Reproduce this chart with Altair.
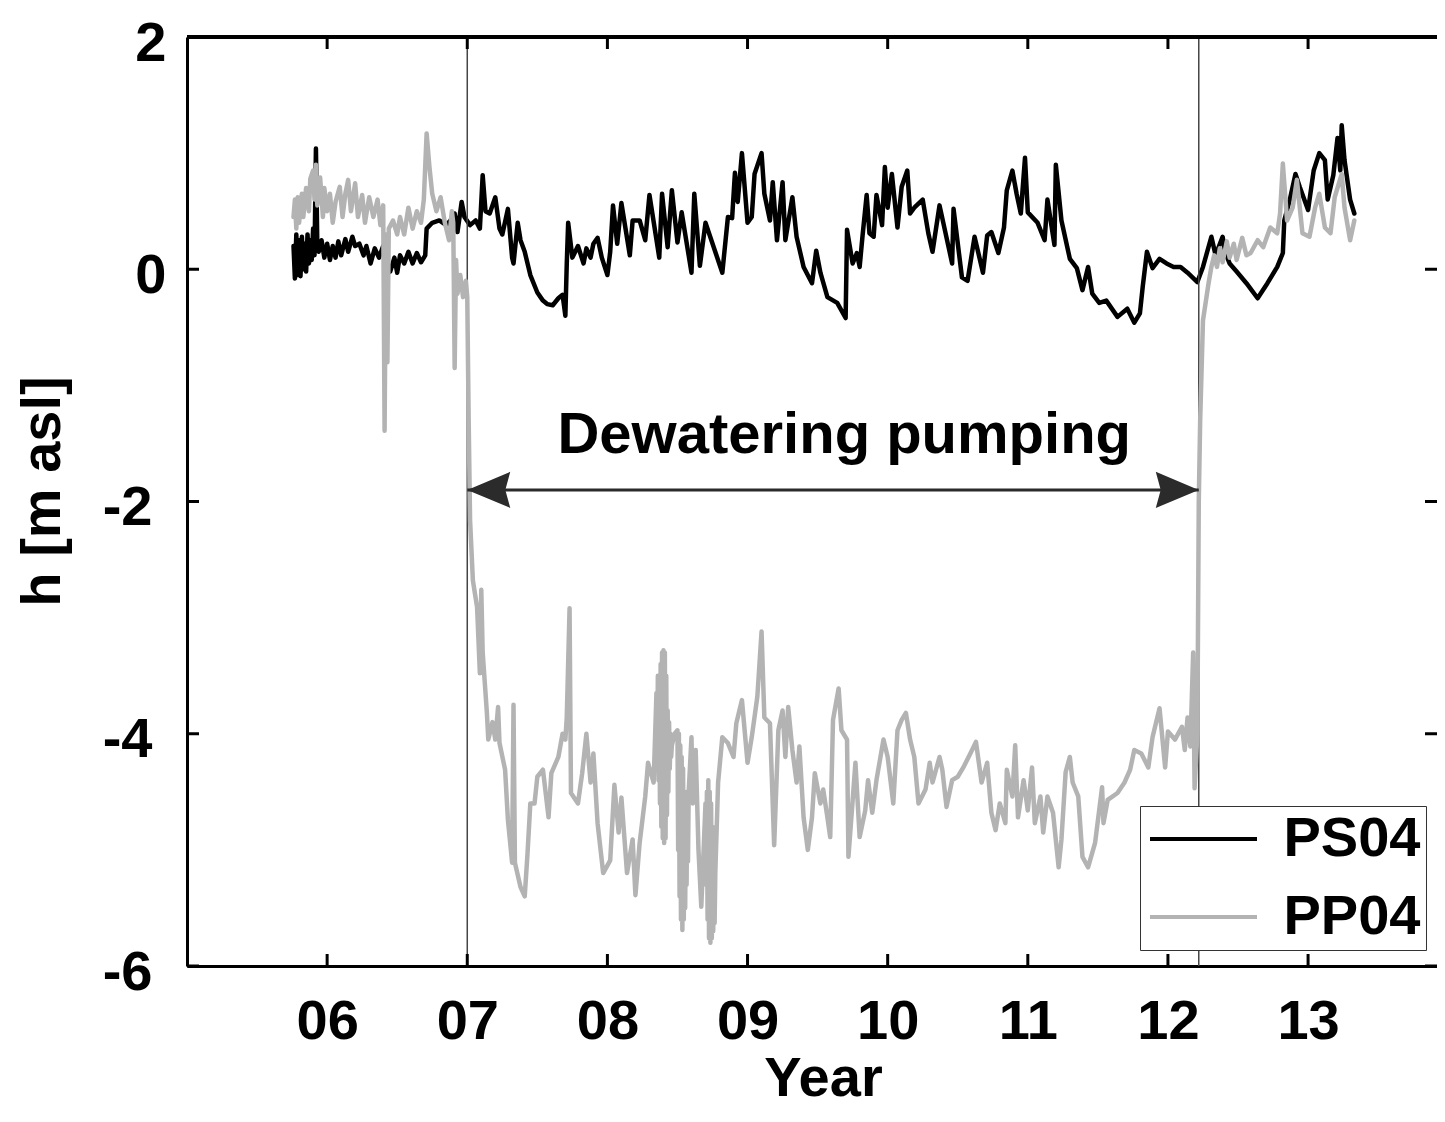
import altair as alt
import pandas as pd

# ---------------- data ----------------
ps04_year = [2005.76, 2005.77, 2005.78, 2005.79, 2005.80, 2005.81, 2005.82, 2005.83, 2005.84, 2005.85,
             2005.86, 2005.87, 2005.88, 2005.89, 2005.90, 2005.91, 2005.92, 2005.93, 2005.94, 2005.96,
             2005.98, 2006.00, 2006.02, 2006.04, 2006.06, 2006.08, 2006.10, 2006.13, 2006.15, 2006.18,
             2006.20, 2006.23, 2006.26, 2006.28, 2006.31, 2006.34, 2006.37, 2006.40, 2006.42, 2006.45,
             2006.48, 2006.50, 2006.52, 2006.55, 2006.58, 2006.61, 2006.64, 2006.67, 2006.70, 2006.71,
             2006.75, 2006.80, 2006.85, 2006.88, 2006.91, 2006.93, 2006.96, 2006.98, 2007.02, 2007.06,
             2007.09, 2007.11, 2007.13, 2007.16, 2007.20, 2007.23, 2007.25, 2007.29, 2007.32, 2007.33,
             2007.36, 2007.38, 2007.41, 2007.45, 2007.50, 2007.54, 2007.57, 2007.61, 2007.65, 2007.68,
             2007.70, 2007.71, 2007.72, 2007.75, 2007.79, 2007.83, 2007.85, 2007.88, 2007.90, 2007.93,
             2007.96, 2008.00, 2008.02, 2008.04, 2008.07, 2008.10, 2008.16, 2008.18, 2008.23, 2008.27,
             2008.30, 2008.37, 2008.39, 2008.43, 2008.46, 2008.50, 2008.53, 2008.60, 2008.62, 2008.66,
             2008.70, 2008.82, 2008.86, 2008.89, 2008.91, 2008.93, 2008.96, 2009.00, 2009.03, 2009.05,
             2009.10, 2009.12, 2009.16, 2009.18, 2009.21, 2009.25, 2009.27, 2009.32, 2009.35, 2009.40,
             2009.46, 2009.49, 2009.52, 2009.57, 2009.64, 2009.70, 2009.71, 2009.75, 2009.78, 2009.80,
             2009.82, 2009.85, 2009.87, 2009.90, 2009.92, 2009.96, 2009.98, 2010.00, 2010.03, 2010.07,
             2010.10, 2010.14, 2010.16, 2010.19, 2010.25, 2010.29, 2010.32, 2010.37, 2010.46, 2010.47,
             2010.53, 2010.57, 2010.62, 2010.68, 2010.71, 2010.74, 2010.79, 2010.83, 2010.85, 2010.89,
             2010.92, 2010.95, 2010.98, 2011.00, 2011.07, 2011.12, 2011.14, 2011.19, 2011.20, 2011.24,
             2011.30, 2011.35, 2011.39, 2011.43, 2011.46, 2011.51, 2011.56, 2011.64, 2011.71, 2011.76,
             2011.80, 2011.82, 2011.85, 2011.89, 2011.94, 2011.99, 2012.04, 2012.09, 2012.14, 2012.21,
             2012.25, 2012.31, 2012.34, 2012.39, 2012.41, 2012.44, 2012.49, 2012.56, 2012.64, 2012.71,
             2012.78, 2012.82, 2012.83, 2012.87, 2012.91, 2012.94, 2013.00, 2013.04, 2013.08, 2013.12,
             2013.14, 2013.18, 2013.21, 2013.23, 2013.24, 2013.26, 2013.30, 2013.33]
ps04_h = [0.20, -0.08, 0.30, -0.05, 0.25, -0.06, 0.28, 0.00, 0.22, -0.02,
          0.30, 0.05, 0.25, 0.08, 0.35, 0.12, 1.04, 0.20, 0.15, 0.25,
          0.10, 0.22, 0.08, 0.20, 0.10, 0.24, 0.12, 0.26, 0.15, 0.28,
          0.20, 0.22, 0.12, 0.20, 0.05, 0.18, 0.10, 0.20, 0.05, -0.02,
          0.10, -0.03, 0.12, 0.05, 0.15, 0.05, 0.14, 0.06, 0.12, 0.35,
          0.40, 0.42, 0.38, 0.42, 0.48, 0.32, 0.58, 0.45, 0.38, 0.42,
          0.35, 0.81, 0.50, 0.48, 0.62, 0.35, 0.30, 0.52, 0.10, 0.05,
          0.40, 0.25, 0.15, -0.05, -0.20, -0.27, -0.30, -0.31, -0.25, -0.22,
          -0.40, 0.05, 0.40, 0.10, 0.20, 0.05, 0.18, 0.10, 0.22, 0.27,
          0.10, -0.05, 0.15, 0.55, 0.22, 0.57, 0.12, 0.42, 0.42, 0.25,
          0.64, 0.10, 0.65, 0.19, 0.68, 0.23, 0.49, -0.03, 0.65, 0.03,
          0.40, -0.03, 0.45, 0.44, 0.83, 0.58, 1.00, 0.40, 0.45, 0.82,
          1.00, 0.65, 0.42, 0.75, 0.25, 0.75, 0.25, 0.62, 0.28, 0.02,
          -0.12, 0.16, -0.03, -0.24, -0.29, -0.42, 0.34, 0.05, 0.14, 0.02,
          0.28, 0.64, 0.31, 0.28, 0.64, 0.38, 0.88, 0.53, 0.82, 0.36,
          0.71, 0.85, 0.48, 0.53, 0.60, 0.31, 0.15, 0.55, 0.05, 0.52,
          -0.07, -0.10, 0.28, -0.03, 0.29, 0.32, 0.14, 0.36, 0.68, 0.85,
          0.65, 0.48, 0.96, 0.49, 0.40, 0.25, 0.60, 0.21, 0.90, 0.42,
          0.09, 0.01, -0.18, 0.02, -0.21, -0.29, -0.27, -0.41, -0.34, -0.46,
          -0.38, -0.15, 0.15, 0.01, 0.09, 0.05, 0.02, 0.02, -0.03, -0.11,
          0.02, 0.28, 0.12, 0.28, 0.14, 0.05, -0.02, -0.12, -0.25, -0.12,
          0.02, 0.14, 0.42, 0.60, 0.82, 0.71, 0.51, 0.85, 1.00, 0.94,
          0.60, 0.81, 1.13, 0.85, 1.24, 0.94, 0.60, 0.48]

pp04_year = [2005.76, 2005.77, 2005.78, 2005.79, 2005.80, 2005.82, 2005.83, 2005.85, 2005.87, 2005.88,
             2005.90, 2005.91, 2005.92, 2005.93, 2005.95, 2005.97, 2005.98, 2006.00, 2006.02, 2006.04,
             2006.06, 2006.09, 2006.11, 2006.13, 2006.15, 2006.17, 2006.20, 2006.22, 2006.25, 2006.27,
             2006.30, 2006.33, 2006.36, 2006.38, 2006.40, 2006.41, 2006.42, 2006.43, 2006.44, 2006.47,
             2006.50, 2006.52, 2006.55, 2006.58, 2006.61, 2006.64, 2006.67, 2006.69, 2006.71, 2006.73,
             2006.75, 2006.78, 2006.81, 2006.84, 2006.87, 2006.89, 2006.90, 2006.91, 2006.92, 2006.93,
             2006.95, 2006.97, 2006.99, 2007.00, 2007.01, 2007.02, 2007.04, 2007.07, 2007.09, 2007.10,
             2007.11, 2007.14, 2007.15, 2007.18, 2007.20, 2007.22, 2007.23, 2007.27, 2007.29, 2007.32,
             2007.33, 2007.34, 2007.38, 2007.41, 2007.43, 2007.45, 2007.48, 2007.50, 2007.54, 2007.58,
             2007.60, 2007.65, 2007.68, 2007.70, 2007.71, 2007.73, 2007.74, 2007.79, 2007.82, 2007.85,
             2007.88, 2007.90, 2007.93, 2007.97, 2008.02, 2008.05, 2008.08, 2008.10, 2008.14, 2008.18,
             2008.20, 2008.23, 2008.27, 2008.29, 2008.33,
             2008.350, 2008.355, 2008.360, 2008.365, 2008.370, 2008.375, 2008.380, 2008.385, 2008.390,
             2008.395, 2008.400, 2008.405, 2008.410, 2008.415, 2008.420, 2008.425, 2008.430, 2008.435,
             2008.440, 2008.445, 2008.450, 2008.455, 2008.460, 2008.48,
             2008.500, 2008.505, 2008.510, 2008.515, 2008.520, 2008.525, 2008.530, 2008.535, 2008.540,
             2008.545, 2008.550, 2008.555, 2008.560, 2008.565, 2008.570, 2008.575, 2008.580,
             2008.60, 2008.61, 2008.63, 2008.65, 2008.67, 2008.69,
             2008.700, 2008.705, 2008.710, 2008.715, 2008.720, 2008.725, 2008.730, 2008.735, 2008.740,
             2008.745, 2008.750, 2008.755, 2008.760, 2008.765, 2008.770,
             2008.79, 2008.82,
             2008.86, 2008.90, 2008.92, 2008.96, 2009.00, 2009.03, 2009.07, 2009.10, 2009.12, 2009.16,
             2009.19, 2009.22, 2009.25, 2009.27, 2009.29, 2009.32, 2009.35, 2009.37, 2009.40, 2009.43,
             2009.46, 2009.48, 2009.52, 2009.54, 2009.57, 2009.59, 2009.61, 2009.65, 2009.67, 2009.71,
             2009.72, 2009.77, 2009.80, 2009.84, 2009.86, 2009.89, 2009.92, 2009.97, 2010.00, 2010.04,
             2010.07, 2010.10, 2010.13, 2010.16, 2010.19, 2010.22, 2010.27, 2010.30, 2010.32, 2010.37,
             2010.39, 2010.42, 2010.46, 2010.50, 2010.54, 2010.59, 2010.63, 2010.67, 2010.71, 2010.74,
             2010.77, 2010.80, 2010.84, 2010.85, 2010.89, 2010.91, 2010.93, 2010.97, 2011.00, 2011.03,
             2011.05, 2011.09, 2011.11, 2011.14, 2011.18, 2011.22, 2011.24, 2011.27, 2011.30, 2011.32,
             2011.36, 2011.39, 2011.43, 2011.48, 2011.53, 2011.54, 2011.57, 2011.64, 2011.69, 2011.73,
             2011.76, 2011.81, 2011.86, 2011.89, 2011.94, 2011.98, 2012.00, 2012.05, 2012.10, 2012.12,
             2012.14, 2012.16, 2012.18, 2012.19, 2012.21, 2012.22, 2012.23, 2012.25, 2012.29, 2012.31,
             2012.33, 2012.35, 2012.37, 2012.39, 2012.42, 2012.44, 2012.47, 2012.49, 2012.53, 2012.56,
             2012.59, 2012.64, 2012.68, 2012.73, 2012.78, 2012.80, 2012.82, 2012.85, 2012.89, 2012.92,
             2012.96, 2013.01, 2013.05, 2013.08, 2013.12, 2013.16, 2013.19, 2013.24, 2013.26, 2013.30,
             2013.33]
pp04_h = [0.45, 0.60, 0.35, 0.62, 0.40, 0.65, 0.45, 0.70, 0.50, 0.78,
          0.85, 0.60, 0.90, 0.55, 0.79, 0.45, 0.70, 0.50, 0.65, 0.40,
          0.58, 0.71, 0.45, 0.65, 0.77, 0.50, 0.74, 0.45, 0.64, 0.40,
          0.62, 0.45, 0.60, 0.38, 0.55, -1.39, 0.30, -0.80, 0.35, 0.42,
          0.30, 0.45, 0.30, 0.53, 0.35, 0.50, 0.40, 0.60, 1.17, 0.88,
          0.65, 0.50, 0.62, 0.40, 0.25, 0.50, 0.40, -0.85, 0.08, -0.21,
          -0.05, -0.24, -0.10, -0.24, -1.30, -2.16, -2.68, -2.91, -3.48, -2.76,
          -3.30, -3.82, -4.05, -3.90, -4.05, -3.77, -4.08, -4.31, -4.74, -5.11,
          -3.75, -5.11, -5.32, -5.40, -5.03, -4.60, -4.60, -4.37, -4.31, -4.72,
          -4.34, -4.20, -4.00, -4.05, -3.86, -2.92, -4.51, -4.60, -4.34, -4.00,
          -4.42, -4.17, -4.77, -5.20, -5.09, -4.44, -4.85, -4.55, -5.20, -4.91,
          -5.39, -4.94, -4.54, -4.25, -4.42,
          -3.65, -4.30, -3.50, -4.40, -3.60, -4.60, -3.40, -4.80, -3.30, -4.90,
          -3.28, -4.94, -3.30, -4.90, -3.50, -4.70, -3.80, -4.50, -3.90, -4.30,
          -4.00, -4.20, -4.10, -4.00,
          -3.97, -5.00, -4.00, -5.40, -4.10, -5.60, -4.20, -5.69, -4.30, -5.60,
          -4.50, -5.50, -4.60, -5.30, -4.50, -5.10, -4.50,
          -4.03, -4.60, -4.14, -5.00, -5.49, -4.90,
          -4.60, -5.30, -4.50, -5.60, -4.40, -5.76, -4.50, -5.80, -4.60, -5.76,
          -4.80, -5.70, -5.00, -5.63, -5.20,
          -4.42, -4.03,
          -4.08, -4.20, -3.91, -3.71, -4.25, -4.03, -3.68, -3.12, -3.86, -3.91,
          -4.96, -3.97, -3.80, -4.20, -3.77, -4.14, -4.42, -4.11, -4.72, -5.00,
          -4.72, -4.34, -4.60, -4.48, -4.72, -4.89, -3.88, -3.61, -3.97, -4.05,
          -5.06, -4.25, -4.89, -4.66, -4.40, -4.68, -4.40, -4.05, -4.20, -4.60,
          -3.97, -3.88, -3.82, -4.05, -4.20, -4.60, -4.48, -4.25, -4.42, -4.20,
          -4.31, -4.63, -4.40, -4.37, -4.29, -4.17, -4.07, -4.42, -4.25, -4.68,
          -4.83, -4.60, -4.77, -4.31, -4.54, -4.10, -4.72, -4.40, -4.66, -4.29,
          -4.77, -4.54, -4.85, -4.54, -4.68, -5.15, -4.91, -4.33, -4.20, -4.42,
          -4.54, -5.06, -5.15, -4.94, -4.46, -4.77, -4.57, -4.51, -4.42, -4.31,
          -4.14, -4.17, -4.29, -4.03, -3.78, -4.29, -3.98, -4.05, -3.94, -4.14,
          -3.86, -4.11, -3.30, -4.47, -4.00, -2.00, -1.30, -0.44, -0.12, 0.02,
          0.12, 0.02, 0.18, 0.06, 0.24, 0.10, 0.22, 0.08, 0.27, 0.12,
          0.14, 0.25, 0.19, 0.36, 0.31, 0.48, 0.91, 0.42, 0.53, 0.77,
          0.31, 0.28, 0.53, 0.65, 0.36, 0.31, 0.62, 0.82, 0.53, 0.25,
          0.42]

series_names = ["PS04", "PP04"]
series_colors = ["#000000", "#b3b3b3"]
x_tick_years = [2006, 2007, 2008, 2009, 2010, 2011, 2012, 2013]
y_tick_values = [-6, -4, -2, 0, 2]
pumping_years = [2007.0, 2012.22]
arrow_level = [-1.9]
annotation_text = ["Dewatering pumping"]
annotation_year = [2009.69]
annotation_h = [-1.58]

# ---------------- chart ----------------
W, H = 1250, 929
FONT = "Liberation Sans"
FS = 56
TICK = 12

xs = alt.Scale(domain=[2005, 2013.92], nice=False, zero=False)
ys = alt.Scale(domain=[-6, 2], nice=False, zero=False)
cs = alt.Scale(domain=series_names, range=series_colors)

ps = pd.DataFrame({"year": ps04_year, "h": ps04_h, "series": "PS04"})
pp = pd.DataFrame({"year": pp04_year, "h": pp04_h, "series": "PP04"})
vl = pd.DataFrame({"year": pumping_years})
arr = pd.DataFrame({"year": [pumping_years[0]], "year2": [pumping_years[1]], "h": arrow_level})
head_l = pd.DataFrame({"year": [pumping_years[0]], "h": arrow_level})
head_r = pd.DataFrame({"year": [pumping_years[1]], "h": arrow_level})
ann = pd.DataFrame({"year": annotation_year, "h": annotation_h, "label": annotation_text})
xt = pd.DataFrame({"year": x_tick_years})
yt = pd.DataFrame({"h": y_tick_values})

x_axis = alt.Axis(values=x_tick_years, labelExpr="substring(toString(datum.value), 2, 4)",
                  labelFont=FONT, labelFontSize=FS, labelFontWeight="bold", labelColor="black",
                  labelPadding=28, labelFlush=False, labelOverlap=False,
                  ticks=False, grid=False, domain=True, domainColor="black", domainWidth=3,
                  title="Year", titleFont=FONT, titleFontSize=FS, titleFontWeight="bold",
                  titleColor="black", titleX=636, titleY=129, titleBaseline="alphabetic",
                  titleAlign="center")
y_axis = alt.Axis(values=y_tick_values, labelExpr="toString(datum.value)",
                  labelFont=FONT, labelFontSize=FS, labelFontWeight="bold", labelColor="black",
                  labelPadding={"condition": {"test": "datum.value < 0", "value": 35}, "value": 21},
                  labelOffset=6,
                  labelFlush=False, labelOverlap=False,
                  ticks=False, grid=False, domain=True, domainColor="black", domainWidth=3,
                  title="h [m asl]", titleFont=FONT, titleFontSize=FS, titleFontWeight="bold",
                  titleColor="black", titleX=-128, titleY=454, titleBaseline="alphabetic",
                  titleAngle=270, titleAlign="center")

legend = alt.Legend(orient="none", legendX=953, legendY=769, title=None,
                    labelFont=FONT, labelFontSize=FS, labelFontWeight="bold", labelColor="black",
                    symbolType="M-5.35,0L5.35,0", symbolSize=400, symbolStrokeWidth=4,
                    symbolOffset=30.5, labelOffset=52, rowPadding=22, padding=5,
                    strokeColor="#333333", fillColor="white")


def X(field="year"):
    return alt.X(f"{field}:Q", scale=xs, axis=x_axis)


def Y(field="h"):
    return alt.Y(f"{field}:Q", scale=ys, axis=y_axis)


line_ps = alt.Chart(ps).mark_line(strokeWidth=4.5, strokeJoin="round", strokeCap="round").encode(
    x=X(), y=Y(), color=alt.Color("series:N", scale=cs, legend=legend))

vlines = alt.Chart(vl).mark_rule(color="#444444", strokeWidth=1.5).encode(x=X())

line_pp = alt.Chart(pp).mark_line(strokeWidth=4.5, strokeJoin="round", strokeCap="round").encode(
    x=X(), y=Y(), color=alt.Color("series:N", scale=cs, legend=legend))

arrow_line = alt.Chart(arr).mark_rule(color="#2b2b2b", strokeWidth=3).encode(
    x=X(), x2="year2:Q", y=Y())

left_head = alt.Chart(head_l).mark_point(
    shape="M0,0L2,-0.84L1.77,0L2,0.84Z", size=1849, filled=True, opacity=1,
    color="#2b2b2b", strokeWidth=0).encode(x=X(), y=Y())

right_head = alt.Chart(head_r).mark_point(
    shape="M0,0L-2,-0.84L-1.77,0L-2,0.84Z", size=1849, filled=True, opacity=1,
    color="#2b2b2b", strokeWidth=0).encode(x=X(), y=Y())

text = alt.Chart(ann).mark_text(font=FONT, fontSize=58, fontWeight="bold", color="black",
                                align="center", baseline="alphabetic").encode(
    x=X(), y=Y(), text="label:N")

# frame top edge and inward ticks on the four sides
tick_style = dict(color="black", strokeWidth=3)
top_edge = alt.Chart(xt).mark_rule(**tick_style).encode(
    x=alt.value(0), x2=alt.value(W), y=alt.value(0))
bottom_ticks = alt.Chart(xt).mark_rule(**tick_style).encode(
    x=X(), y=alt.value(H), y2=alt.value(H - TICK))
top_ticks = alt.Chart(xt).mark_rule(**tick_style).encode(
    x=X(), y=alt.value(0), y2=alt.value(TICK))
left_ticks = alt.Chart(yt).mark_rule(**tick_style).encode(
    y=Y(), x=alt.value(0), x2=alt.value(TICK))
right_ticks = alt.Chart(yt).mark_rule(**tick_style).encode(
    y=Y(), x=alt.value(W), x2=alt.value(W - TICK))

chart = alt.layer(
    line_ps, vlines, line_pp, arrow_line, left_head, right_head, text,
    top_edge, bottom_ticks, top_ticks, left_ticks, right_ticks
).properties(
    width=W, height=H,
    autosize=alt.AutoSizeParams(type="none"),
    padding={"left": 179, "top": 29, "right": 0, "bottom": 142},
    background="white",
).configure_view(strokeWidth=0)

chart.save("out.html", embed_options={"renderer": "svg", "actions": False})
